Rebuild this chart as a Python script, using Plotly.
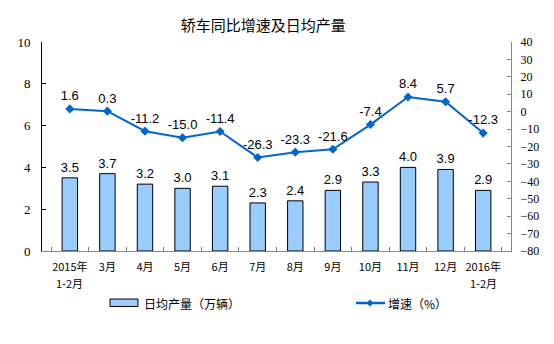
import plotly.graph_objects as go

categories = ["2015年1-2月", "3月", "4月", "5月", "6月", "7月", "8月", "9月", "10月", "11月", "12月", "2016年1-2月"]
tick_line1 = ["2015年", "3月", "4月", "5月", "6月", "7月", "8月", "9月", "10月", "11月", "12月", "2016年"]
tick_line2 = ["1-2月", "", "", "", "", "", "", "", "", "", "", "1-2月"]
daily_output = [3.5, 3.7, 3.2, 3.0, 3.1, 2.3, 2.4, 2.9, 3.3, 4.0, 3.9, 2.9]
growth = [1.6, 0.3, -11.2, -15.0, -11.4, -26.3, -23.3, -21.6, -7.4, 8.4, 5.7, -12.3]
left_ticks = [0, 2, 4, 6, 8, 10]
right_ticks = list(range(-80, 41, 10))
bar_name = "日均产量（万辆）"
line_name = "增速（%）"

BAR_COLOR = "#99CCFF"
LINE_COLOR = "#0066CC"

fig = go.Figure()
fig.add_trace(go.Bar(
    x=categories, y=daily_output, name=bar_name,
    marker=dict(color=BAR_COLOR, line=dict(color="black", width=1)),
    width=0.41,
    text=[f"{v:.1f}" for v in daily_output], textposition="outside",
    constraintext="none",
    textfont=dict(family="Liberation Sans", size=13, color="black"),
    cliponaxis=False, showlegend=False,
))
fig.add_trace(go.Scatter(
    x=categories, y=growth, name=line_name, yaxis="y2",
    mode="lines+markers+text",
    line=dict(color=LINE_COLOR, width=2),
    marker=dict(symbol="diamond", size=7, color=LINE_COLOR),
    text=[f"{v:.1f}" for v in growth], textposition="top center",
    textfont=dict(family="Liberation Sans", size=13, color="black"),
    cliponaxis=False, showlegend=False,
))

# manual legend (pixel -> paper conversion)
L, R, T, B = 42, 511, 42, 251
def px(x):
    return (x - L) / (R - L)
def py(y):
    return (B - y) / (B - T)

shapes = [
    dict(type="rect", xref="paper", yref="paper", x0=px(110), x1=px(138), y0=py(306.5), y1=py(299),
         fillcolor=BAR_COLOR, line=dict(color="black", width=1)),
    dict(type="line", xref="paper", yref="paper", x0=px(356), x1=px(385), y0=py(303), y1=py(303),
         line=dict(color=LINE_COLOR, width=2.5)),
    dict(type="path", xref="paper", yref="paper",
         path=f"M {px(370)} {py(299.5)} L {px(373.5)} {py(303)} L {px(370)} {py(306.5)} L {px(366.5)} {py(303)} Z",
         fillcolor=LINE_COLOR, line=dict(color=LINE_COLOR, width=0)),
]
annotations = [
    dict(text=bar_name, xref="paper", yref="paper", x=px(142), y=py(303), xanchor="left", yanchor="middle",
         showarrow=False, font=dict(family="Noto Sans CJK SC", size=12, color="black")),
    dict(text=line_name, xref="paper", yref="paper", x=px(386), y=py(303), xanchor="left", yanchor="middle",
         showarrow=False, font=dict(family="Noto Sans CJK SC", size=12, color="black")),
]
for cat, t2 in zip(categories, tick_line2):
    if t2:
        annotations.append(dict(text=t2, xref="x", yref="paper", x=cat, y=py(283), xanchor="center",
                                yanchor="middle", showarrow=False,
                                font=dict(family="Noto Sans CJK SC", size=11, color="black")))

fig.update_layout(
    width=554, height=344,
    margin=dict(l=L, r=554 - R, t=T, b=344 - B),
    paper_bgcolor="white", plot_bgcolor="white",
    title=dict(text="轿车同比增速及日均产量", x=0.475, xanchor="center", y=0.925, yanchor="middle",
               font=dict(family="Noto Sans CJK SC", size=15, color="black")),
    showlegend=False,
    shapes=shapes, annotations=annotations,
    xaxis=dict(type="category", showline=True, linecolor="#888888", linewidth=1,
               ticks="inside", tickson="boundaries", ticklen=4, tickcolor="#888888",
               tickangle=0, tickvals=categories, ticktext=tick_line1, ticklabelstandoff=6,
               tickfont=dict(family="Noto Sans CJK SC", size=11, color="black"),
               showgrid=False),
    yaxis=dict(range=[0, 10], tickvals=left_ticks, showline=True, linecolor="black", linewidth=1,
               ticks="inside", ticklen=4, tickcolor="black", showgrid=False, zeroline=False,
               ticklabelstandoff=8,
               tickfont=dict(family="Liberation Serif", size=13, color="black")),
    yaxis2=dict(range=[-80, 40], tickvals=right_ticks, overlaying="y", side="right",
                showline=True, linecolor="#888888", linewidth=1,
                ticks="inside", ticklen=4, tickcolor="#888888", showgrid=False, zeroline=False,
                ticklabelstandoff=6,
                tickfont=dict(family="Liberation Serif", size=12, color="black")),
)

fig.write_html("out.html")
